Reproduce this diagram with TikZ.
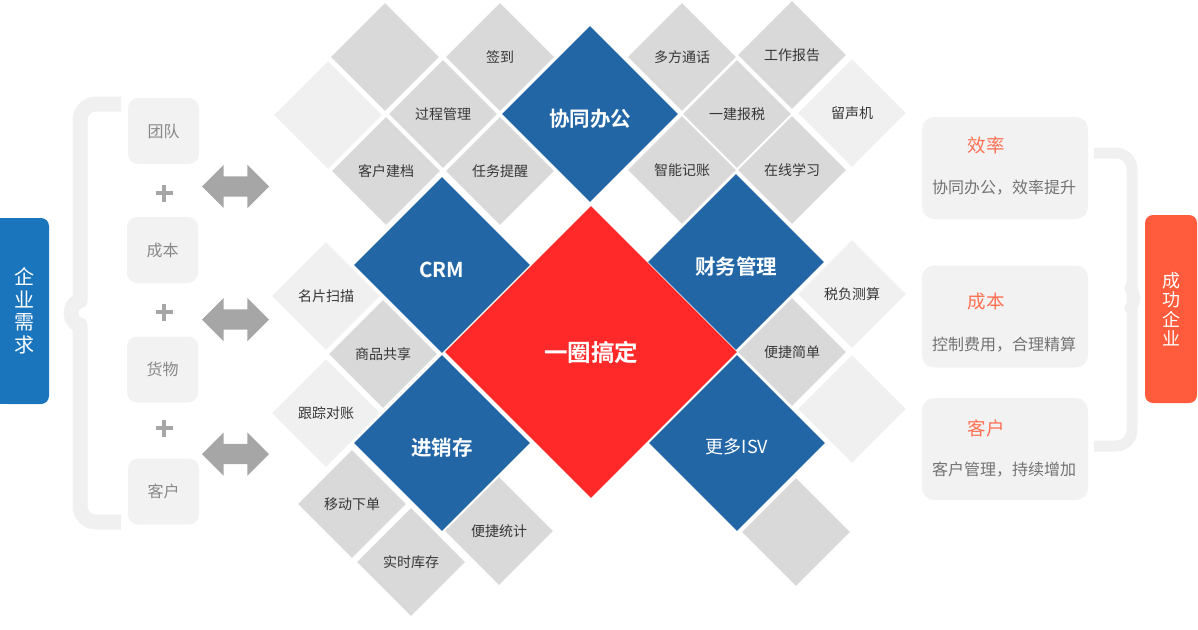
\documentclass[tikz,border=0pt]{standalone}
\usepackage{fontspec}
\usepackage{tikz}
\usetikzlibrary{
  positioning,
  shapes.geometric,
  shapes.arrows
}
\newfontfamily\cjk{Noto Sans CJK SC}[BoldFont={Noto Sans CJK SC Bold}]
\definecolor{suiteblue}{RGB}{34,102,166}
\definecolor{needblue}{RGB}{27,117,188}
\definecolor{corered}{RGB}{255,41,41}
\definecolor{winorange}{RGB}{255,91,60}
\definecolor{titleorange}{RGB}{255,112,82}
\definecolor{cellgray}{RGB}{217,217,217}
\definecolor{celllight}{RGB}{240,240,240}
\definecolor{boxgray}{RGB}{242,242,242}
\definecolor{bracegray}{RGB}{240,240,240}
\definecolor{arrowgray}{RGB}{166,166,166}
\definecolor{labeldark}{RGB}{55,55,55}
\definecolor{labelsoft}{RGB}{136,136,136}
\definecolor{notegray}{RGB}{115,115,115}

\tikzset{
  cell/.style={diamond, aspect=1, fill=cellgray, inner sep=0pt,
    minimum width=108pt, minimum height=108pt,
    text=labeldark, font=\cjk\fontsize{14}{14}\selectfont},
  blankcell/.style={cell, fill=celllight},
  suite/.style={diamond, aspect=1, fill=suiteblue, inner sep=0pt,
    minimum width=176pt, minimum height=176pt, text height=24pt, text depth=0pt,
    text=white, font=\cjk\bfseries\fontsize{20.5}{20.5}\selectfont},
  core/.style={diamond, aspect=1, fill=corered, inner sep=0pt,
    minimum width=292pt, minimum height=292pt,
    text=white, font=\cjk\bfseries\fontsize{23.5}{23.5}\selectfont},
  needbox/.style={rectangle, rounded corners=10pt, fill=boxgray,
    minimum width=71pt, minimum height=66pt,
    text=labelsoft, font=\cjk\fontsize{16}{16}\selectfont},
  gainbox/.style={rectangle, rounded corners=12pt, fill=boxgray,
    minimum width=166pt, minimum height=102pt},
  gaintitle/.style={text=titleorange, font=\cjk\fontsize{18.5}{18.5}\selectfont},
  gainnote/.style={text=notegray, font=\cjk\fontsize{16}{16}\selectfont},
  sidebar/.style={rectangle, rounded corners=8pt, align=center, text=white},
  twoway/.style={double arrow, fill=arrowgray, minimum height=67pt,
    double arrow head extend=11.5pt, inner xsep=0pt, inner ysep=10pt},
  brace/.style={draw=bracegray, rounded corners=16pt, line join=round},
  plussign/.style={draw=arrowgray, line width=3.5pt}
}

\begin{document}
\begin{tikzpicture}[x=1pt, y=-1pt]
  \useasboundingbox (0,0) rectangle (1198,629);

  % left: needs
  \node[sidebar, fill=needblue, minimum width=49pt, minimum height=186pt,
        font=\cjk\fontsize{20}{22.5}\selectfont] (need) at (24.5,311) {企\\业\\需\\求};
  \fill[needblue] (need.north west) rectangle ([xshift=12pt]need.south west);
  \draw[brace, line width=15pt] (121,104) -- (80,104) -- (80,285)
    .. controls (80,300) and (72,306) .. (64,313)
    .. controls (72,320) and (80,326) .. (80,341) -- (80,522) -- (121,522);
  \node[needbox] (team) at (163.5,131) {团队};
  \node[needbox] (cost) at (162.5,250) {成本};
  \node[needbox] (goods) at (162.5,369.5) {货物};
  \node[needbox] (client) at (163.5,491.5) {客户};
  \foreach \y in {193,312,428}
    \draw[plussign] (164,\y) +(-8.5,0) -- +(8.5,0) +(0,-8.5) -- +(0,8.5);
  \node[twoway] (arrA) at (235.5,186.5) {};
  \node[twoway] (arrB) at (235.5,319.5) {};
  \node[twoway] (arrC) at (235.5,454) {};

  % top-left cells
  \node[cell] (tlgray) at (385,57) {};
  \node[cell] (signin) at (500,57) {签到};
  \node[blankcell] (tllight) at (328,115) {};
  \node[cell] (process) at (443,114) {过程管理};
  \node[cell] (archive) at (386,171) {客户建档};
  \node[cell] (remind) at (500,171) {任务提醒};
  \node[suite] (office) at (590,114) {协同办公};

  % top-right cells
  \node[cell] (call) at (682,57) {多方通话};
  \node[cell] (report) at (792,55) {工作报告};
  \node[cell] (taxfile) at (737,114) {一建报税};
  \node[blankcell] (voice) at (852,113) {留声机};
  \node[cell] (books) at (682,170) {智能记账};
  \node[cell] (learn) at (792,170) {在线学习};

  % centre
  \node[core] (core) at (591,352) {一圈搞定};
  \node[suite] (crm) at (442,265) {CRM};
  \node[suite] (finance) at (736,262) {财务管理};
  \node[suite] (stock) at (442,443) {进销存};
  \node[suite, font=\cjk\fontsize{18}{18}\selectfont, text height=20pt] (isv) at (737,443) {更多ISV};

  % lower-left cells
  \node[blankcell] (card) at (326,296) {名片扫描};
  \node[cell] (share) at (383,354) {商品共享};
  \node[blankcell] (track) at (326,413) {跟踪对账};
  \node[cell] (order) at (352,504) {移动下单};
  \node[cell] (instock) at (411,562) {实时库存};
  \node[cell] (stat) at (499,531) {便捷统计};

  % lower-right cells
  \node[blankcell] (estimate) at (852,294) {税负测算};
  \node[cell] (simple) at (792,352) {便捷简单};
  \node[blankcell] (rblank) at (852,409) {};
  \node[cell] (bblank) at (796,532) {};

  % right: gains
  \node[gainbox] (effbox) at (1005,168) {};
  \node[gaintitle] (efft) at (986,145) {效率};
  \node[gainnote] (effn) at (1004,188) {协同办公，效率提升};
  \node[gainbox] (costbox) at (1005,316.5) {};
  \node[gaintitle] (costt) at (986,302) {成本};
  \node[gainnote] (costn) at (1004,345) {控制费用，合理精算};
  \node[gainbox] (clientbox) at (1005,449) {};
  \node[gaintitle] (clientt) at (986,428) {客户};
  \node[gainnote] (clientn) at (1004,470) {客户管理，持续增加};
  \draw[brace, line width=11pt] (1094,153) -- (1132,153) -- (1132,282)
    .. controls (1132,292) and (1137,294) .. (1142,298)
    .. controls (1137,302) and (1132,304) .. (1132,314) -- (1132,446) -- (1094,446);
  \node[sidebar, fill=winorange, minimum width=52pt, minimum height=188pt,
        font=\cjk\fontsize{18}{19.5}\selectfont] (win) at (1171,309) {成\\功\\企\\业};
\end{tikzpicture}
\end{document}
